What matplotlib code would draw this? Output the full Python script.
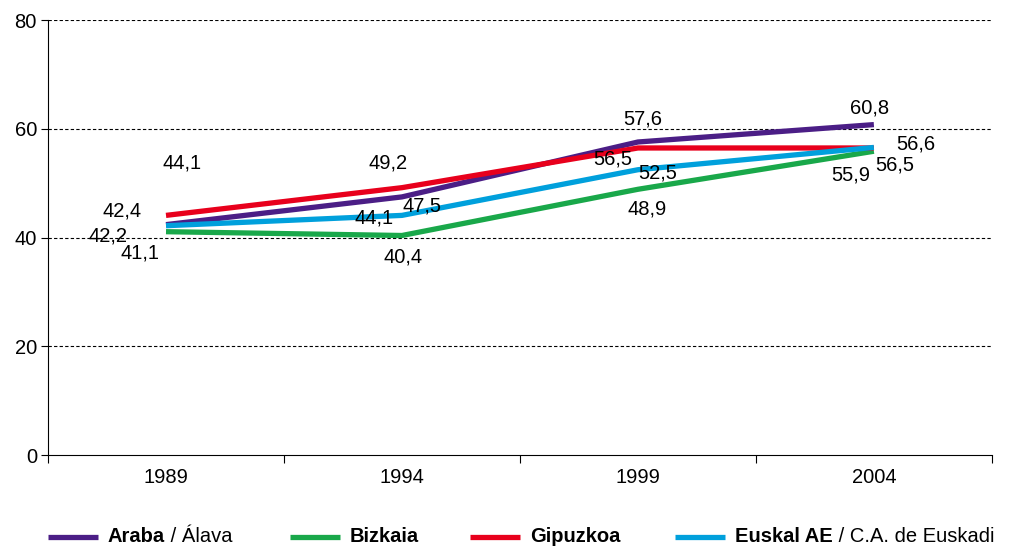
import numpy as np
import matplotlib.pyplot as plt

plt.rcParams['font.family'] = ['Liberation Sans', 'DejaVu Sans']

years = ['1989', '1994', '1999', '2004']
araba = [42.4, 47.5, 57.6, 60.8]
bizkaia = [41.1, 40.4, 48.9, 55.9]
gipuzkoa = [44.1, 49.2, 56.5, 56.5]
euskadi = [42.2, 44.1, 52.5, 56.6]

series = [
    (araba, '#4B1E86', 'Araba', ' / Álava', [(-44, -14), (20, 9), (5, -23), (-4, -17)]),
    (bizkaia, '#19A84A', 'Bizkaia', '', [(-26, 21), (1, 22), (9, 20), (-23, 24)]),
    (gipuzkoa, '#E8001C', 'Gipuzkoa', '', [(16, -52), (-14, -25), (-25, 11), (21, 17)]),
    (euskadi, '#00A0DC', 'Euskal AE', ' / C.A. de Euskadi', [(-58, 10), (-28, 3), (20, 3), (42, -3)]),
]
fs = 14.5

fig = plt.figure(figsize=(10.09, 5.47), dpi=100)
ax = fig.add_axes([0.0476, 0.168, 0.9354, 0.795])

x = np.arange(len(years))
for vals, col, name, extra, offs in series:
    ax.plot(x, vals, color=col, lw=3.8, solid_capstyle='butt', zorder=3)
    for xi, v, (dx, dy) in zip(x, vals, offs):
        ax.annotate(f'{v:.1f}'.replace('.', ','), (xi, v), xytext=(dx, -dy),
                    textcoords='offset pixels', ha='center', va='center',
                    fontsize=fs, zorder=4)

ax.set_xlim(-0.5, 3.5)
ax.set_ylim(0, 80)
ax.set_yticks([0, 20, 40, 60, 80])
ax.set_xticks(np.arange(-0.5, 4, 1))
ax.set_xticklabels([])
ax.set_xticks(x, minor=True)
ax.set_xticklabels(years, minor=True)
ax.tick_params(axis='x', which='minor', length=0, pad=9, labelsize=fs)
ax.tick_params(axis='x', which='major', length=6, width=0.8)
ax.tick_params(axis='y', length=5, width=0.8, labelsize=fs, pad=3)
for yv in [20, 40, 60, 80]:
    ax.axhline(yv, color='black', lw=0.8, ls=(0, (3, 2)), zorder=1)
ax.spines['top'].set_visible(False)
ax.spines['right'].set_visible(False)
ax.spines['left'].set_linewidth(0.8)
ax.spines['bottom'].set_linewidth(0.8)

# legend
leg_x = [48, 290, 470, 675]
ly = 1 - 537 / 547
for (vals, col, name, extra, offs), lx in zip(series, leg_x):
    fig.add_artist(plt.Line2D([lx / 1009, (lx + 50) / 1009], [ly, ly], color=col, lw=3.8,
                              solid_capstyle='butt'))
    t = fig.text((lx + 60) / 1009, ly, name, fontsize=fs, fontweight='bold',
                 va='center', ha='left')
    if extra:
        ax.annotate(extra, xy=(1, 0), xycoords=t, va='bottom', ha='left',
                    fontsize=fs, annotation_clip=False)

fig.savefig('out.png', dpi=100)
